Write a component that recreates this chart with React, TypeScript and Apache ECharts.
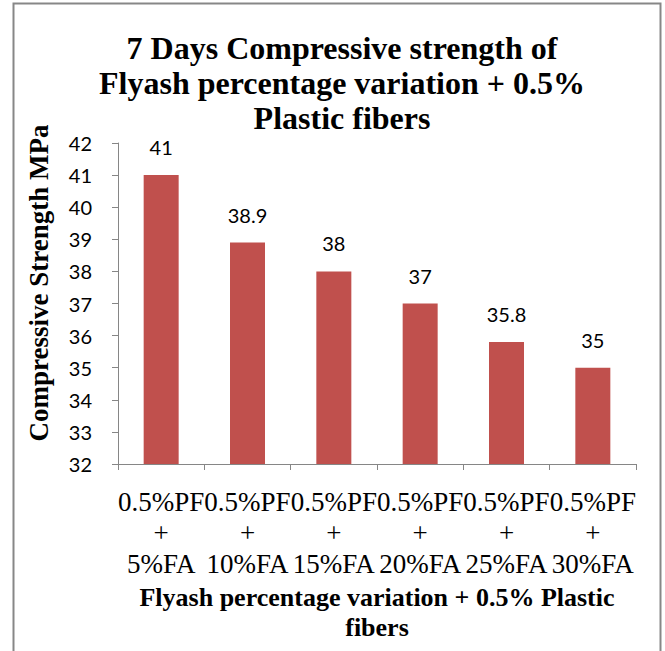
import React, { useEffect, useRef } from "react";
import * as echarts from "echarts";

const categories = [
  "0.5%PF\n+\n5%FA",
  "0.5%PF\n+\n10%FA",
  "0.5%PF\n+\n15%FA",
  "0.5%PF\n+\n20%FA",
  "0.5%PF\n+\n25%FA",
  "0.5%PF\n+\n30%FA",
];
const strength = [41, 38.9, 38, 37, 35.8, 35];
const yMin = 32;
const yMax = 42;
const yInterval = 1;

const titleText = "7 Days Compressive strength of\nFlyash percentage variation + 0.5%\nPlastic fibers";
const xTitle = "Flyash percentage variation + 0.5% Plastic\nfibers";
const yTitle = "Compressive Strength MPa";

const SERIF = "'Liberation Serif', 'Times New Roman', 'DejaVu Serif', serif";
const SANS = "Lato, 'Open Sans', sans-serif";

export default function App() {
  const ref = useRef<HTMLDivElement>(null);
  useEffect(() => {
    if (!ref.current) return;
    const chart = echarts.init(ref.current, null, { renderer: "svg" });
    chart.setOption({
      animation: false,
      backgroundColor: "#ffffff",
      title: {
        text: titleText,
        left: 337,
        textAlign: "center",
        top: 25,
        textStyle: {
          fontFamily: SERIF,
          fontWeight: "bold",
          fontSize: 32,
          lineHeight: 35,
          color: "#000",
        },
      },
      grid: { left: 118, right: 29, top: 143, bottom: 187 },
      xAxis: {
        type: "category",
        data: categories,
        name: xTitle,
        nameLocation: "middle",
        nameGap: 118,
        nameTextStyle: {
          fontFamily: SERIF,
          fontWeight: "bold",
          fontSize: 26,
          lineHeight: 30,
          color: "#000",
          verticalAlign: "top",
        },
        axisLine: { lineStyle: { color: "#868686", width: 1 } },
        axisTick: { show: true, length: 6, lineStyle: { color: "#868686" } },
        axisLabel: {
          interval: 0,
          margin: 22,
          fontFamily: SERIF,
          fontSize: 27,
          lineHeight: 31,
          color: "#000",
        },
      },
      yAxis: {
        type: "value",
        min: yMin,
        max: yMax,
        interval: yInterval,
        splitLine: { show: false },
        axisLine: { show: true, lineStyle: { color: "#868686", width: 1 } },
        axisTick: { show: true, length: 6, lineStyle: { color: "#868686" } },
        axisLabel: {
          margin: 26,
          fontFamily: SANS,
          fontSize: 20,
          color: "#000",
        },
      },
      series: [
        {
          type: "bar",
          data: strength,
          barWidth: 35,
          itemStyle: { color: "#C0504D" },
          label: {
            show: true,
            position: "top",
            distance: 18,
            fontFamily: SANS,
            fontSize: 20,
            color: "#000",
          },
        },
      ],
      graphic: [
        {
          type: "rect",
          shape: { x: 13.5, y: 3.5, width: 647, height: 660 },
          style: { fill: "none", stroke: "#878787", lineWidth: 2 },
          silent: true,
        },
        {
          type: "text",
          x: 39,
          y: 283,
          rotation: Math.PI / 2,
          style: {
            text: yTitle,
            fontFamily: SERIF,
            fontWeight: "bold",
            fontSize: 27,
            fill: "#000",
            align: "center",
            verticalAlign: "middle",
          },
        },
      ],
    });
    return () => chart.dispose();
  }, []);
  return <div ref={ref} style={{ width: 665, height: 651, position: "absolute", left: 0, top: 0 }} />;
}
